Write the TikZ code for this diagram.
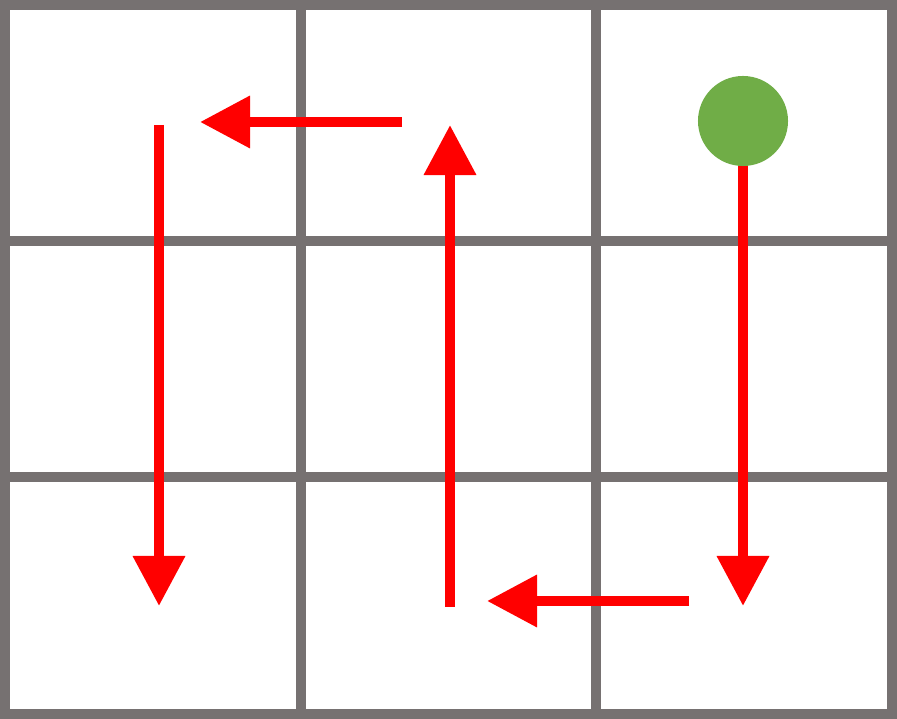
\documentclass[tikz,border=0pt]{standalone}
\usetikzlibrary{arrows.meta}
\definecolor{gridgray}{HTML}{767171}
\definecolor{dotgreen}{HTML}{70AD47}
\begin{document}
\begin{tikzpicture}[x=0.01cm, y=-0.01cm,
  gridline/.style={draw=gridgray, line width=0.1cm},
  moveline/.style={draw=red, line width=0.1cm, -{Triangle[length=0.5cm, width=0.5cm]}}]
\useasboundingbox (0,0) rectangle (897,719);

% Draw the grid cells
\draw[gridline] (5, 5) rectangle (301, 241);
\draw[gridline] (301, 5) rectangle (596, 241);
\draw[gridline] (596, 5) rectangle (892, 241);
\draw[gridline] (5, 241) rectangle (301, 477);
\draw[gridline] (301, 241) rectangle (596, 477);
\draw[gridline] (596, 241) rectangle (892, 477);
\draw[gridline] (5, 477) rectangle (301, 714);
\draw[gridline] (301, 477) rectangle (596, 714);
\draw[gridline] (596, 477) rectangle (892, 714);

% Path points
\coordinate (tipA) at (743, 606);
\coordinate (tailB) at (689, 601);
\coordinate (tipB) at (487, 601);
\coordinate (tailC) at (450, 607);
\coordinate (tipC) at (450, 125);
\coordinate (tailD) at (402, 122);
\coordinate (tipD) at (200, 122);
\coordinate (tailE) at (159, 125);
\coordinate (tipE) at (159, 606);
\coordinate (startc) at (743, 121);

% Draw the path arrows
\draw[moveline] (startc) -- (tipA);
\draw[moveline] (tailB) -- (tipB);
\draw[moveline] (tailC) -- (tipC);
\draw[moveline] (tailD) -- (tipD);
\draw[moveline] (tailE) -- (tipE);

% Start marker
\node[circle, fill=dotgreen, minimum size=0.9cm, inner sep=0pt] (start) at (startc) {};
\end{tikzpicture}
\end{document}
